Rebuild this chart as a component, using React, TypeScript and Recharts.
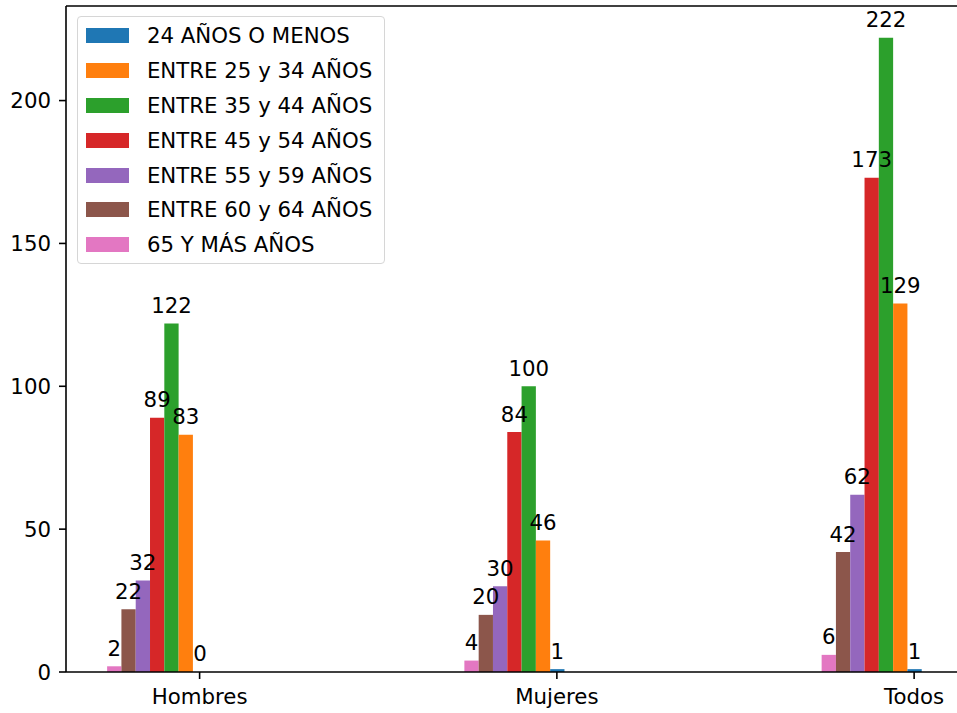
import { BarChart, Bar, XAxis, YAxis, LabelList, Legend, ReferenceLine } from "recharts";

const categories = ["Hombres", "Mujeres", "Todos"];

// headcount per age band, one value per category
const menos24 = [0, 1, 1];
const de25a34 = [83, 46, 129];
const de35a44 = [122, 100, 222];
const de45a54 = [89, 84, 173];
const de55a59 = [32, 30, 62];
const de60a64 = [22, 20, 42];
const mas65 = [2, 4, 6];

const yTicks = [0, 50, 100, 150, 200];

const series = [
  { key: "menos24", label: "24 AÑOS O MENOS", color: "#1f77b4", values: menos24 },
  { key: "de25a34", label: "ENTRE 25 y 34 AÑOS", color: "#ff7f0e", values: de25a34 },
  { key: "de35a44", label: "ENTRE 35 y 44 AÑOS", color: "#2ca02c", values: de35a44 },
  { key: "de45a54", label: "ENTRE 45 y 54 AÑOS", color: "#d62728", values: de45a54 },
  { key: "de55a59", label: "ENTRE 55 y 59 AÑOS", color: "#9467bd", values: de55a59 },
  { key: "de60a64", label: "ENTRE 60 y 64 AÑOS", color: "#8c564b", values: de60a64 },
  { key: "mas65", label: "65 Y MÁS AÑOS", color: "#e377c2", values: mas65 },
];

// bar width in category units; the group ends on the tick with the youngest band
const BAR_W = 0.04;
const GROUP_SHIFT = 3 * BAR_W;

const data = categories.map((name, i) => {
  const row: Record<string, number | string> = { name, pos: i - GROUP_SHIFT };
  series.forEach((s) => {
    row[s.key] = s.values[i];
  });
  return row;
});

const allValues = series.flatMap((s) => s.values);
const yMax = Math.max(...allValues) * 1.05;
const xMin = -GROUP_SHIFT - 3 * BAR_W - BAR_W / 2;
const xMax = categories.length - 1 + BAR_W / 2;
const xPad = (xMax - xMin) * 0.05;

const FONT = "'DejaVu Sans', sans-serif";
const FS = 21.3;

// value written just above the top edge of each bar
function ValueLabel(props: any) {
  const { x, y, width, value } = props;
  if (value === undefined || value === null) return null;
  return (
    <text
      x={Number(x) + Number(width) / 2}
      y={Number(y) - 10.5}
      textAnchor="middle"
      fill="#000"
      fontSize={FS}
      fontFamily={FONT}
    >
      {value}
    </text>
  );
}

function AgeLegend() {
  return (
    <div
      style={{
        boxSizing: "border-box",
        width: 308,
        height: 248,
        border: "1px solid #d6d6d6",
        borderRadius: 4,
        background: "rgba(255,255,255,0.8)",
        paddingTop: 1.6,
        paddingLeft: 7.6,
        fontFamily: FONT,
        color: "#000",
      }}
    >
      {series.map((s) => (
        <div key={s.key} style={{ display: "flex", alignItems: "center", height: 34.8 }}>
          <span style={{ width: 43, height: 15, background: s.color, marginRight: 18.3, flex: "none" }} />
          <span style={{ fontSize: FS, lineHeight: 1, whiteSpace: "nowrap" }}>{s.label}</span>
        </div>
      ))}
    </div>
  );
}

export default function App() {
  return (
    <div
      style={{
        position: "absolute",
        left: 0,
        top: 0,
        width: 957,
        height: 713,
        overflow: "hidden",
        background: "#fff",
        fontFamily: FONT,
      }}
    >
      <BarChart
        width={962}
        height={713}
        data={data}
        margin={{ top: 6, right: 0, left: 0, bottom: 0 }}
        barGap={0}
        style={{ fontFamily: FONT }}
      >
        <XAxis
          type="number"
          dataKey="pos"
          domain={[xMin - xPad, xMax + xPad]}
          allowDataOverflow
          ticks={[0, 1, 2]}
          interval={0}
          tickFormatter={(v) => categories[v] ?? ""}
          height={41}
          tickSize={7}
          tickMargin={10}
          axisLine={{ stroke: "#000", strokeWidth: 1.6 }}
          tickLine={{ stroke: "#000", strokeWidth: 1.6 }}
          tick={{ fill: "#000", fontSize: FS, fontFamily: FONT }}
        />
        <YAxis
          type="number"
          domain={[0, yMax]}
          allowDataOverflow
          ticks={yTicks}
          interval={0}
          width={66}
          tickSize={7}
          tickMargin={8}
          axisLine={{ stroke: "#000", strokeWidth: 1.6 }}
          tickLine={{ stroke: "#000", strokeWidth: 1.6 }}
          tick={{ fill: "#000", fontSize: FS, fontFamily: FONT }}
        />
        <ReferenceLine y={yMax} stroke="#000" strokeWidth={1.6} ifOverflow="visible" />
        {[...series].reverse().map((s) => (
          <Bar
            key={s.key}
            dataKey={s.key}
            name={s.label}
            fill={s.color}
            barSize={14.3}
            minPointSize={0.001}
            isAnimationActive={false}
          >
            <LabelList dataKey={s.key} content={ValueLabel} />
          </Bar>
        ))}
        <Legend
          layout="vertical"
          align="center"
          verticalAlign="middle"
          content={() => <AgeLegend />}
          wrapperStyle={{ left: 77, top: 16, width: 308, height: 248 }}
        />
      </BarChart>
    </div>
  );
}
